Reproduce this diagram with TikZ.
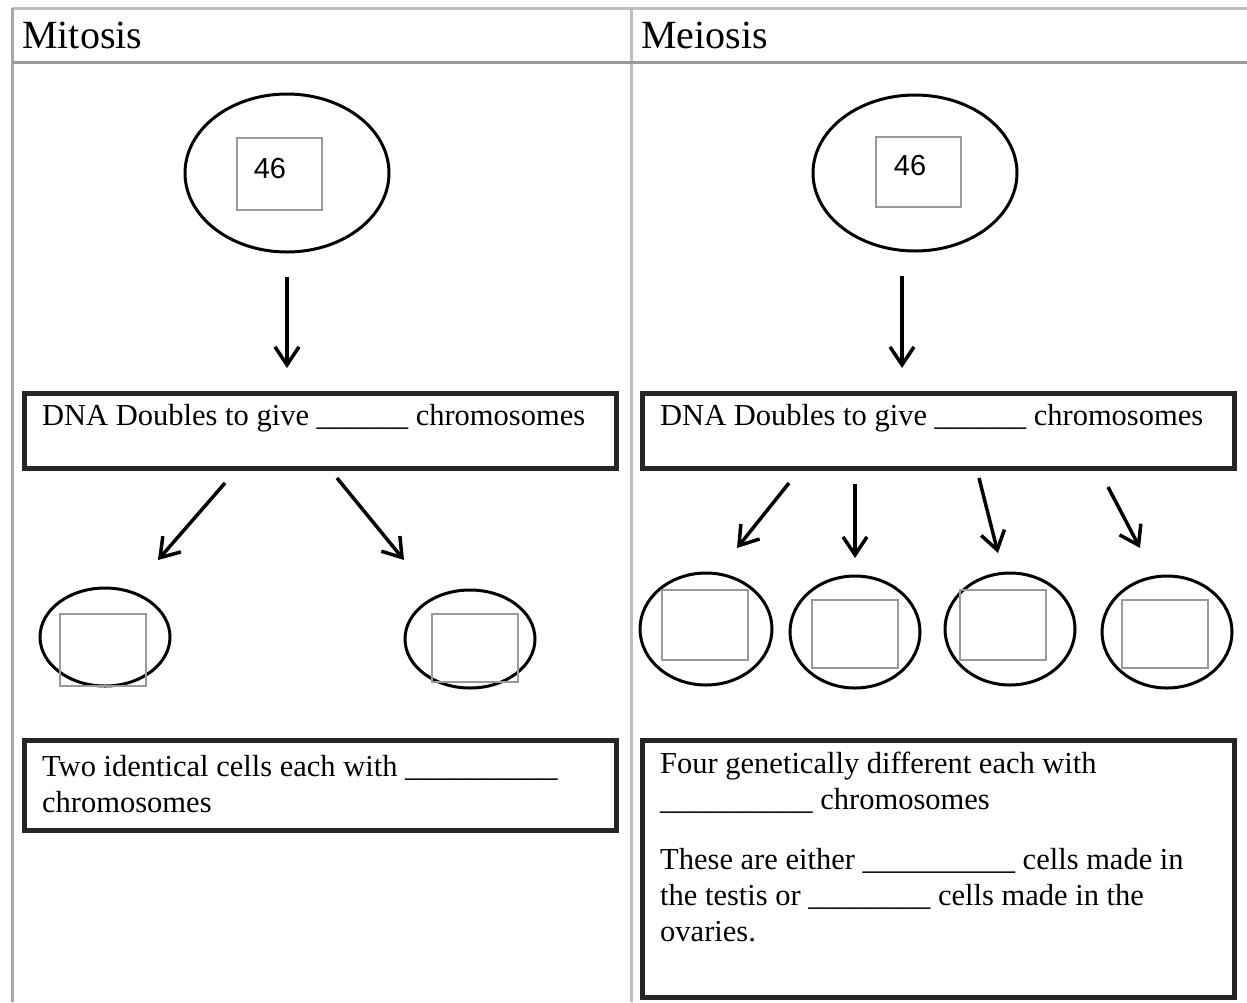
\documentclass[tikz,border=0pt]{standalone}
\usepackage{fontspec}
\setmainfont{Liberation Serif}
\newfontfamily\digitfont{Liberation Sans}
\usetikzlibrary{arrows.meta,positioning,shapes.geometric}

\tikzset{
  rule/.style={draw=black!25, line width=3pt},
  cell/.style={ellipse, draw=black, line width=3pt, inner sep=0pt},
  slot/.style={rectangle, draw=black!40, line width=2pt, inner sep=0pt},
  panel/.style={rectangle, draw=black!85, line width=4.5pt, inner sep=0pt, anchor=north west},
  txt/.style={font=\fontsize{30.5}{36}\selectfont, inner sep=0pt},
  head/.style={font=\fontsize{40}{48}\selectfont, inner sep=0pt, anchor=base west},
  num/.style={font=\digitfont\fontsize{29}{32}\selectfont, inner sep=0pt},
  arr/.style={-{Straight Barb[length=18pt,width=24pt,line width=3.5pt]}, line width=3.5pt}
}

\begin{document}
\begin{tikzpicture}[x=1pt, y=-1pt]
  \useasboundingbox (0,0) rectangle (1247,1002);

  % Tableau
  \draw[rule] (12,8) -- (1247,8);
  \draw[rule, draw=black!35] (12,8) -- (12,1002);
  \draw[rule] (631,8) -- (631,1002);
  \draw[rule, draw=black!40] (12,62) -- (1247,62);
  \node[head] (mitHead) at (22,48) {Mitosis};
  \node[head] (meiHead) at (641,48) {Meiosis};

  % Mitose
  \node[cell, minimum width=204, minimum height=158] (mitP) at (287,173) {};
  \node[slot, minimum width=85, minimum height=72] (mitPs) at (279.5,174) {};
  \node[num] (mitPn) at (270,169) {46};

  \node[panel, minimum width=592, minimum height=75] (mitDNA) at (22,391) {};
  \node[txt, anchor=base west] (mitDNAt) at (42,425) {DNA Doubles to give \_\_\_\_\_\_ chromosomes};
  \draw[arr, shorten <=23pt, shorten >=23pt] (mitP.south) -- (mitP.south |- mitDNA.north);

  \node[cell, minimum width=130, minimum height=98] (mitA) at (105,637) {};
  \node[slot, minimum width=86, minimum height=72] (mitAs) at (103,650) {};
  \node[cell, minimum width=130, minimum height=98] (mitB) at (470,639) {};
  \node[slot, minimum width=86, minimum height=68] (mitBs) at (475,648) {};

  \coordinate (mitL1) at (225,483);
  \coordinate (mitL2) at (158,560);
  \coordinate (mitR1) at (337,478);
  \coordinate (mitR2) at (404,560);
  \draw[arr] (mitL1) -- (mitL2);
  \draw[arr] (mitR1) -- (mitR2);

  \node[panel, minimum width=592, minimum height=90] (mitRes) at (22,738) {};
  \node[txt, anchor=north west, align=left] (mitRest) at (42,755)
    {Two identical cells each with \_\_\_\_\_\_\_\_\_\_\\ chromosomes};

  % Meiose
  \node[cell, minimum width=204, minimum height=156] (meiP) at (915,173) {};
  \node[slot, minimum width=85, minimum height=70] (meiPs) at (918.5,172) {};
  \node[num] (meiPn) at (910,166) {46};

  \node[panel, minimum width=592, minimum height=75] (meiDNA) at (640,391) {};
  \node[txt, anchor=base west] (meiDNAt) at (660,425) {DNA Doubles to give \_\_\_\_\_\_ chromosomes};
  \draw[arr, shorten <=23pt, shorten >=23pt] ([xshift=-13pt]meiP.south) -- ([xshift=-13pt]meiP.south |- meiDNA.north);

  \node[cell, minimum width=132, minimum height=112] (meiA) at (706,629) {};
  \node[slot, minimum width=86, minimum height=70] (meiAs) at (705,625) {};
  \node[cell, minimum width=130, minimum height=112] (meiB) at (855,632) {};
  \node[slot, minimum width=86, minimum height=68] (meiBs) at (855,634) {};
  \node[cell, minimum width=130, minimum height=112] (meiC) at (1010,629) {};
  \node[slot, minimum width=86, minimum height=70] (meiCs) at (1003,625) {};
  \node[cell, minimum width=130, minimum height=112] (meiD) at (1167,632) {};
  \node[slot, minimum width=86, minimum height=68] (meiDs) at (1165,634) {};

  \coordinate (meiA1) at (789,483);
  \coordinate (meiA2) at (737,548);
  \coordinate (meiB1) at (855,484);
  \coordinate (meiB2) at (855,558);
  \coordinate (meiC1) at (979,478);
  \coordinate (meiC2) at (998,553);
  \coordinate (meiD1) at (1108,487);
  \coordinate (meiD2) at (1140,548);
  \draw[arr] (meiA1) -- (meiA2);
  \draw[arr] (meiB1) -- (meiB2);
  \draw[arr] (meiC1) -- (meiC2);
  \draw[arr] (meiD1) -- (meiD2);

  \node[panel, minimum width=592, minimum height=257] (meiRes) at (640,738) {};
  \node[txt, anchor=north west, align=left] (meiRest) at (660,752)
    {Four genetically different each with\\
     \_\_\_\_\_\_\_\_\_\_ chromosomes\\[24pt]
     These are either \_\_\_\_\_\_\_\_\_\_ cells made in\\
     the testis or \_\_\_\_\_\_\_\_ cells made in the\\
     ovaries.};
\end{tikzpicture}
\end{document}
